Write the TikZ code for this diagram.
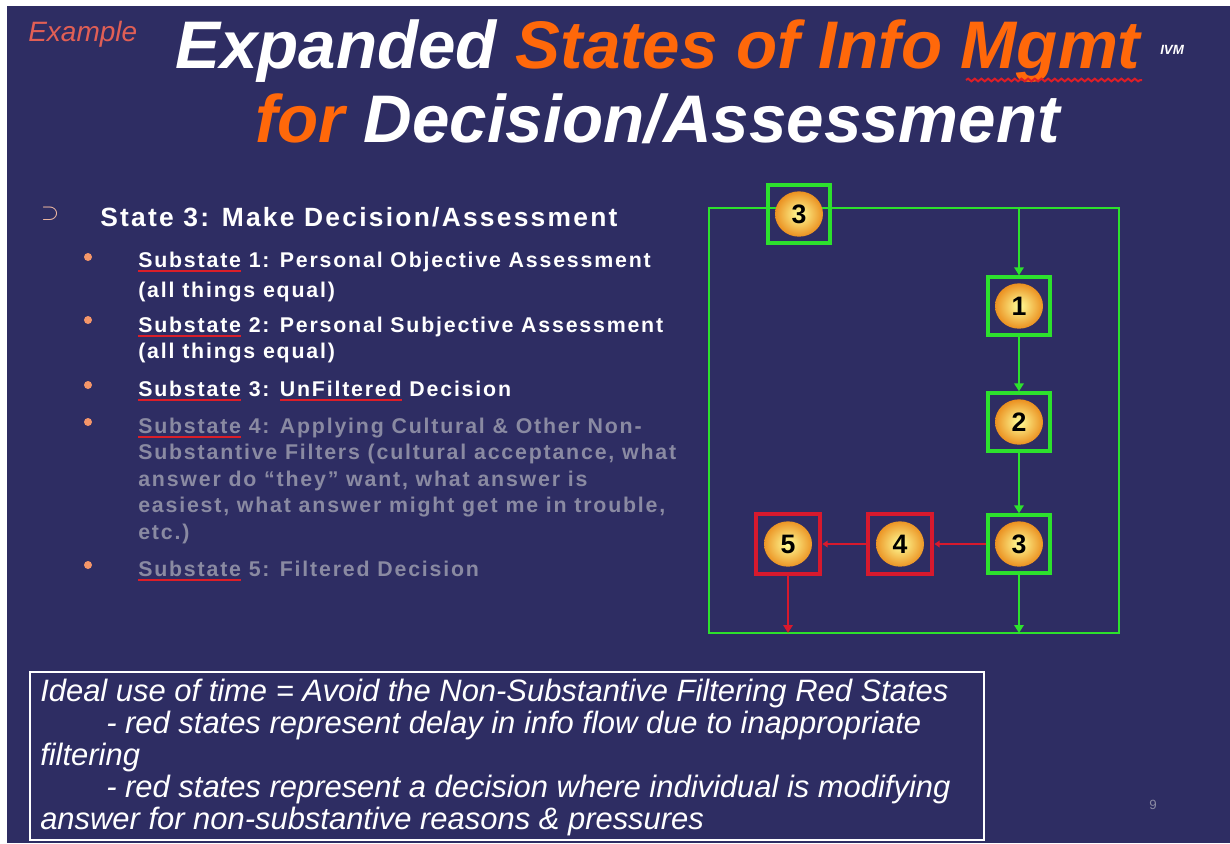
\documentclass[tikz,border=0pt]{standalone}
\usepackage{fontspec}
\setmainfont{Liberation Sans}
\newfontfamily\listfamily[LetterSpace=8.5]{Liberation Sans}
\usetikzlibrary{arrows.meta,decorations.pathmorphing}

\definecolor{slidebg}{RGB}{46,45,99}
\definecolor{titleorange}{RGB}{255,104,10}
\definecolor{bulletorange}{RGB}{245,150,105}
\definecolor{examplered}{RGB}{225,95,85}
\definecolor{stategreen}{RGB}{45,225,45}
\definecolor{statered}{RGB}{215,25,45}
\definecolor{dimtext}{RGB}{138,138,162}
\definecolor{spellred}{RGB}{220,30,40}

\newcommand\slidetitlefont{\fontsize{50.5}{50.5}\selectfont\bfseries\itshape}
\newcommand\headfont{\listfamily\fontsize{19.8}{19.8}\selectfont\bfseries}
\newcommand\subfont{\listfamily\fontsize{16}{16}\selectfont\bfseries}
\newcommand\notefont{\fontsize{23.2}{23.2}\selectfont\itshape}
% red spelling mark under a word
\newcommand\redmark[1]{\setbox0\hbox{#1}\rlap{\textcolor{spellred}{\rule[-3.6pt]{\wd0}{1.4pt}}}\box0\relax}

\pgfdeclarelayer{slide}
\pgfdeclarelayer{wires}
\pgfsetlayers{slide,wires,main}

\tikzset{
  txt/.style={anchor=base west, inner sep=0pt, text=white},
  dimtxt/.style={txt, text=dimtext},
  dot/.style={circle, fill=bulletorange, inner sep=0pt, minimum size=6pt},
  spell/.style={spellred, line width=1.5pt},
  state/.style={rectangle, inner sep=0pt, font=\fontsize{20}{20}\selectfont\bfseries,
    path picture={\shade[inner color=yellow!40!white, outer color=orange!90!black]
      (path picture bounding box.center) ellipse (18pt and 17pt);}},
  okstate/.style={state, draw=stategreen, line width=3pt, minimum width=46pt, minimum height=43pt},
  badstate/.style={state, draw=statered, line width=3.5pt, minimum width=48pt, minimum height=45pt},
  flow/.style={stategreen, line width=1.5pt},
  badflow/.style={statered, line width=2pt},
  tip/.style={-{Triangle[width=7pt,length=6pt]}},
}

\begin{document}
\begin{tikzpicture}[x=0.75pt,y=0.75pt,yscale=-1,xscale=1]
\useasboundingbox (0,0) rectangle (1230,843);
\begin{pgfonlayer}{slide}
  \fill[white] (0,0) rectangle (1230,843);
  \fill[slidebg] (7,6) rectangle (1230,843);
\end{pgfonlayer}

% heading
\node[txt, text=examplered, font=\fontsize{21}{21}\selectfont\itshape] (example) at (28,41) {Example};
\node[txt, font=\slidetitlefont] (title1) at (175,68) {Expanded \textcolor{titleorange}{States of Info Mgmt}};
\node[txt, font=\fontsize{10}{10}\selectfont\bfseries\itshape] (ivm) at (1160,54) {IVM};
\node[txt, font=\slidetitlefont] (title2) at (255,142) {\textcolor{titleorange}{for} Decision/Assessment};
\draw[decorate, decoration={snake, amplitude=1pt, segment length=5pt}, spell] (966,80) -- (1142,80);

% bullet list
\node[anchor=center, inner sep=0pt, text=bulletorange!60!white, font=\fontsize{16}{16}\selectfont\bfseries] (arrowbul) at (50,214) {$\supset$};
\node[txt, font=\headfont] (state3) at (100,226) {State 3: Make Decision/Assessment};

\node[dot] (b1) at (88,257) {};
\node[txt, font=\subfont] (sub1a) at (138,267) {\redmark{Substate} 1: Personal Objective Assessment};
\node[txt, font=\subfont] (sub1b) at (138,297) {(all things equal)};
\node[dot] (b2) at (88,320) {};
\node[txt, font=\subfont] (sub2a) at (138,332) {\redmark{Substate} 2: Personal Subjective Assessment};
\node[txt, font=\subfont] (sub2b) at (138,358) {(all things equal)};
\node[dot] (b3) at (88,385) {};
\node[txt, font=\subfont] (sub3) at (138,396) {\redmark{Substate} 3: \redmark{UnFiltered} Decision};
\node[dot] (b4) at (88,422) {};
\node[dimtxt, font=\subfont] (sub4a) at (138,433) {\redmark{Substate} 4: Applying Cultural \& Other Non-};
\node[dimtxt, font=\subfont] (sub4b) at (138,459) {Substantive Filters (cultural acceptance, what};
\node[dimtxt, font=\subfont] (sub4c) at (138,486) {answer do “they” want, what answer is};
\node[dimtxt, font=\subfont] (sub4d) at (138,512) {easiest, what answer might get me in trouble,};
\node[dimtxt, font=\subfont] (sub4e) at (138,539) {etc.)};
\node[dot] (b5) at (88,565) {};
\node[dimtxt, font=\subfont] (sub5) at (138,576) {\redmark{Substate} 5: Filtered Decision};

% state flow
\node[okstate] (top3) at (799,214) {3};
\node[okstate] (s1) at (1019,306) {1};
\node[okstate] (s2) at (1019,422) {2};
\node[okstate] (s3) at (1019,544) {3};
\node[badstate] (s4) at (900,544) {4};
\node[badstate] (s5) at (788,544) {5};

\coordinate (loopNW) at (709,208);
\coordinate (loopNE) at (1119,208);
\coordinate (loopSW) at (709,633);
\coordinate (loopSE) at (1119,633);

\begin{pgfonlayer}{wires}
  \draw[flow] (top3 |- loopNW) -- (loopNW) -- (loopSW) -- (loopSE) -- (loopNE) -- cycle;
\end{pgfonlayer}
\draw[flow, tip] (s1 |- loopNW) -- (s1.north);
\draw[flow, tip] (s1.south) -- (s2.north);
\draw[flow, tip] (s2.south) -- (s3.north);
\draw[flow, tip] (s3.south) -- (s3 |- loopSW);
\draw[badflow, -{Triangle[width=5pt,length=4pt]}] (s3.west) -- (s4.east);
\draw[badflow, -{Triangle[width=5pt,length=4pt]}] (s4.west) -- (s5.east);
\draw[badflow, tip] (s5.south) -- (s5 |- loopSW);

% summary box
\draw[white, line width=1.5pt] (30,672) rectangle (984,840);
\node[txt, font=\notefont] (note1) at (40,701) {Ideal use of time = Avoid the Non-Substantive Filtering Red States};
\node[txt, font=\notefont] (note2) at (106,733) {- red states represent delay in info flow due to inappropriate};
\node[txt, font=\notefont] (note3) at (40,765) {filtering};
\node[txt, font=\notefont] (note4) at (106,797) {- red states represent a decision where individual is modifying};
\node[txt, font=\notefont] (note5) at (40,829) {answer for non-substantive reasons \& pressures};

\node[txt, text=dimtext, font=\fontsize{10}{10}\selectfont] (pageno) at (1149,809) {9};
\end{tikzpicture}
\end{document}
